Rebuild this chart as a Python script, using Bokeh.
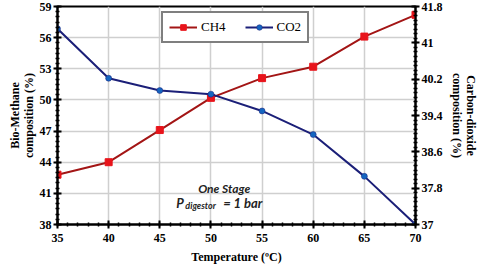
from bokeh.plotting import figure
from bokeh.models import (Range1d, LinearAxis, FixedTicker,
                          Legend, LegendItem, Label)
from bokeh.embed import file_html
from bokeh.resources import INLINE

temperature = [35, 40, 45, 50, 55, 60, 65, 70]
ch4 = [42.8, 44.0, 47.1, 50.2, 52.1, 53.2, 56.1, 58.2]
co2 = [41.31, 40.22, 39.95, 39.87, 39.50, 38.98, 38.06, 37.0]

left_ticks = [38, 41, 44, 47, 50, 53, 56, 59]
right_ticks = [37, 37.8, 38.6, 39.4, 40.2, 41, 41.8]
right_minor = [round(37 + 0.1 * i, 1) for i in range(49)]
x_ticks = [35, 40, 45, 50, 55, 60, 65, 70]

SERIF = "Liberation Serif"
CH4_LINE = "#A31515"
CH4_MARK = "#E8141B"
CO2_LINE = "#1B1F78"
CO2_MARK = "#1565C0"

p = figure(width=480, height=270, output_backend="svg", toolbar_location=None,
           x_range=Range1d(35, 70), y_range=Range1d(38, 59),
           min_border_left=57, min_border_right=65, min_border_top=6,
           min_border_bottom=46)
p.extra_y_ranges = {"co2": Range1d(37, 41.8)}

p.outline_line_color = "black"
p.outline_line_width = 2

def style_axis(ax, label_standoff=2, title_standoff=1):
    ax.axis_line_width = 2
    ax.axis_line_color = "black"
    ax.major_tick_line_width = 2
    ax.minor_tick_line_width = 1.5
    ax.major_tick_in = 4
    ax.major_tick_out = 4
    ax.minor_tick_in = 2
    ax.minor_tick_out = 2
    ax.major_label_text_font = SERIF
    ax.major_label_text_font_style = "bold"
    ax.major_label_text_font_size = "12px"
    ax.major_label_text_color = "black"
    ax.axis_label_text_font = SERIF
    ax.axis_label_text_font_style = "bold"
    ax.axis_label_text_font_size = "12px"
    ax.axis_label_text_color = "black"
    ax.axis_label_text_line_height = 1.0
    ax.major_label_standoff = label_standoff
    ax.axis_label_standoff = title_standoff

p.xaxis.ticker = FixedTicker(ticks=x_ticks, minor_ticks=list(range(35, 71)))
p.xaxis.axis_label = "Temperature (ºC)"
p.yaxis.ticker = FixedTicker(ticks=left_ticks,
                             minor_ticks=[38 + 0.5 * i for i in range(43)])
p.yaxis.axis_label = "Bio-Methane\ncomposition (%)"
style_axis(p.xaxis[0], label_standoff=5, title_standoff=5)
style_axis(p.yaxis[0])

raxis = LinearAxis(y_range_name="co2",
                   ticker=FixedTicker(ticks=right_ticks, minor_ticks=right_minor),
                   axis_label="Carbon-dioxide\ncomposition (%)")
raxis.major_label_overrides = {v: f"{v:g}" for v in right_ticks}
style_axis(raxis, label_standoff=2, title_standoff=4)
p.add_layout(raxis, "right")

p.xgrid.grid_line_color = "#cfcfcf"
p.ygrid.grid_line_color = "#cfcfcf"
p.xgrid.grid_line_width = 1.5
p.ygrid.grid_line_width = 1.5

l1 = p.line(temperature, ch4, line_color=CH4_LINE, line_width=2)
m1 = p.scatter(temperature, ch4, marker="square", size=7,
               fill_color=CH4_MARK, line_color=CH4_MARK)
l2 = p.line(temperature, co2, y_range_name="co2", line_color=CO2_LINE, line_width=2)
m2 = p.scatter(temperature, co2, y_range_name="co2", marker="circle", size=6,
               fill_color=CO2_MARK, line_color=CO2_LINE, line_width=0.5)

legend = Legend(items=[LegendItem(label="CH4", renderers=[l1, m1]),
                       LegendItem(label="CO2", renderers=[l2, m2])],
                orientation="horizontal", location=(104, 181))
legend.border_line_color = "black"
legend.border_line_width = 2
legend.label_text_font = SERIF
legend.label_text_font_size = "13px"
legend.label_text_color = "black"
legend.glyph_width = 28
legend.glyph_height = 14
legend.spacing = 19
legend.padding = 6
legend.label_standoff = 4
legend.margin = 0
legend.background_fill_alpha = 1
p.add_layout(legend, "center")

AFONT = "Lato"
p.add_layout(Label(x=51.3, y=41.45, text="One Stage", text_align="center",
                   text_baseline="middle", text_font=AFONT,
                   text_font_style="bold italic", text_font_size="12px",
                   text_color="#222222"))
p.add_layout(Label(x=46.6, y=40.1, text="P", text_align="left",
                   text_baseline="middle", text_font=AFONT,
                   text_font_style="bold italic", text_font_size="13px",
                   text_color="#222222"))
p.add_layout(Label(x=47.5, y=39.85, text="digestor", text_align="left",
                   text_baseline="middle", text_font=AFONT,
                   text_font_style="bold italic", text_font_size="9px",
                   text_color="#222222"))
p.add_layout(Label(x=51.2, y=40.1, text="= 1 bar", text_align="left",
                   text_baseline="middle", text_font=AFONT,
                   text_font_style="bold italic", text_font_size="13px",
                   text_color="#222222"))

open("out.html", "w").write(file_html(p, INLINE))
